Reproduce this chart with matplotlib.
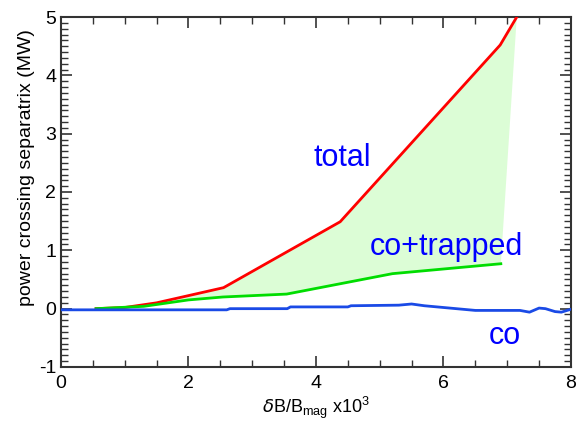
import matplotlib
matplotlib.use("Agg")
import matplotlib.pyplot as plt
from matplotlib.ticker import MultipleLocator

plt.rcParams['font.family'] = ['Liberation Sans', 'DejaVu Sans']
plt.rcParams['mathtext.fontset'] = 'custom'
plt.rcParams['mathtext.rm'] = 'Liberation Sans'

# total power crossing separatrix
total_x = [0.55, 1.0, 1.5, 2.55, 4.38, 6.89, 7.15]
total_y = [0.0, 0.02, 0.1, 0.36, 1.49, 4.52, 5.0]

# co + trapped
cotr_x = [0.55, 1.3, 2.0, 2.54, 3.54, 5.2, 6.9]
cotr_y = [0.0, 0.04, 0.15, 0.2, 0.25, 0.6, 0.77]

# co-passing
co_x = [0.0, 2.6, 2.65, 3.55, 3.6, 4.5, 4.55, 5.3, 5.5, 5.7, 6.0, 6.5, 7.2, 7.35,
        7.5, 7.6, 7.75, 7.85, 8.0]
co_y = [-0.02, -0.02, 0.0, 0.0, 0.03, 0.03, 0.05, 0.06, 0.08, 0.05, 0.02, -0.03,
        -0.03, -0.06, 0.01, 0.0, -0.05, -0.06, -0.01]

x_ticks = [0, 2, 4, 6, 8]
y_ticks = [-1, 0, 1, 2, 3, 4, 5]

fig = plt.figure(figsize=(5.82, 4.23), dpi=100)
ax = fig.add_axes([0.1048, 0.1324, 0.8762, 0.8274])

# shaded region between total and co+trapped
poly_x = total_x + cotr_x[::-1]
poly_y = total_y + cotr_y[::-1]
ax.fill(poly_x, poly_y, color='#dcfdd6', lw=0, zorder=1)

ax.plot(total_x, total_y, color='#ff0000', lw=2, zorder=3)
ax.plot(cotr_x, cotr_y, color='#00dd00', lw=2, zorder=3)
ax.plot(co_x, co_y, color='#1a4ae6', lw=2, zorder=4)

ax.text(4.42, 2.58, 'total', color='#0000ff', fontsize=22, ha='center', va='center')
ax.text(6.05, 1.06, 'co+trapped', color='#0000ff', fontsize=22, ha='center', va='center')
ax.text(6.96, -0.47, 'co', color='#0000ff', fontsize=22, ha='center', va='center')

ax.set_xlim(0, 8)
ax.set_ylim(-1, 5)
ax.set_xticks(x_ticks)
ax.set_yticks(y_ticks)
ax.set_xticklabels([str(v) for v in x_ticks])
ax.set_yticklabels([str(v) for v in y_ticks])
ax.xaxis.set_minor_locator(MultipleLocator(0.5))
ax.yaxis.set_minor_locator(MultipleLocator(0.1))
ax.tick_params(which='both', direction='in', top=True, right=True,
               colors='#333333', labelcolor='black', labelsize=14)
ax.tick_params(which='major', length=8, width=1.2)
ax.tick_params(which='minor', length=5, width=1.0)
ax.tick_params(axis='x', pad=6)
for s in ax.spines.values():
    s.set_color('#333333')
    s.set_linewidth(1.5)

ax.set_ylabel('power crossing separatrix (MW)', fontsize=14)
ax.yaxis.set_label_coords(-0.05, 0.571)
ax.set_xlabel(r'$\delta$B/B$_{\mathregular{mag}}$ x10$^{\mathregular{3}}$', fontsize=13, labelpad=2)

fig.savefig('out.png', dpi=100)
